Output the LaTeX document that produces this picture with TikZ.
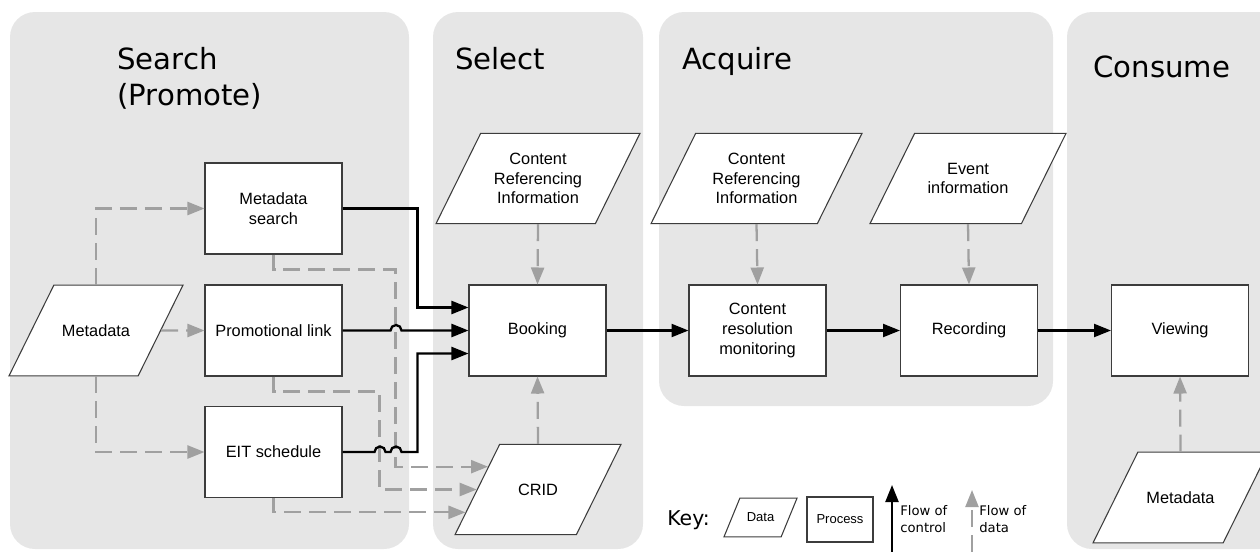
\documentclass[tikz,border=0pt]{standalone}
\usepackage{fontspec}
\setmainfont{Liberation Sans}
\newfontfamily\headfont{DejaVu Sans}
\usetikzlibrary{shapes.geometric,arrows.meta,calc}
\definecolor{panelgray}{RGB}{230,230,230}
\definecolor{flowgray}{RGB}{160,160,160}
\definecolor{edgegray}{RGB}{60,60,60}

\begin{document}
\begin{tikzpicture}[x=0.02cm,y=-0.02cm,
   panel/.style={fill=panelgray,rounded corners=0.5cm},
   heading/.style={anchor=base west,inner sep=0pt,align=left,
      font=\headfont\fontsize{16.6}{20.5}\selectfont},
   procbox/.style={draw=edgegray,line width=0.6pt,fill=white,align=center,
      minimum width=2.74cm,minimum height=1.82cm,inner sep=1pt,
      font=\fontsize{9.3}{11.3}\selectfont},
   databox/.style={trapezium,trapezium left angle=63.7,trapezium right angle=116.3,
      trapezium stretches body=true,draw=edgegray,line width=0.6pt,fill=white,
      align=center,inner xsep=1pt,inner ysep=22.4pt,
      font=\fontsize{9.3}{11.3}\selectfont},
   twolines/.style={inner ysep=16.75pt},
   threelines/.style={inner ysep=11.1pt},
   ctrlflow/.style={line width=1.3pt,-{Triangle[length=0.34cm,width=0.26cm]}},
   dataflow/.style={draw=flowgray,line width=1.3pt,dash pattern=on 0.34cm off 0.16cm,
      -{Triangle[length=0.34cm,width=0.26cm]}},
   keytext/.style={anchor=north west,inner sep=0pt,align=left,
      font=\headfont\fontsize{7.5}{9.5}\selectfont}]

\useasboundingbox (0,0) rectangle (1260,551);
\begin{scope}
\clip (0,0) rectangle (1260,551);
\fill[panel] (10,12) rectangle (409,549);
\fill[panel] (433,12) rectangle (643,549);
\fill[panel] (659,12) rectangle (1053,406);
\fill[panel] (1067,12) rectangle (1300,549);
\end{scope}

\node[heading,anchor=north west] (hsearch) at (117,47) {Search\\(Promote)};
\node[heading] (hselect) at (455,69) {Select};
\node[heading] (hacquire) at (682,69) {Acquire};
\node[heading] (hconsume) at (1093,77) {Consume};

\node[databox,minimum width=3.48cm] (meta) at (96,330.5) {Metadata};
\node[procbox] (msearch) at (273.5,208.5) {Metadata\\search};
\node[procbox] (promo) at (273.5,330.5) {Promotional link};
\node[procbox] (eit) at (273.5,452) {EIT schedule};

\node[procbox] (booking) at (537.5,330.5) {Booking};
\node[databox,threelines,minimum width=4.08cm] (cri) at (538,178.5) {Content\\Referencing\\Information};
\node[databox,minimum width=3.32cm] (crid) at (538,489.5) {CRID};

\node[procbox] (resol) at (757.5,330.5) {Content\\resolution\\monitoring};
\node[databox,threelines,minimum width=4.22cm] (cri2) at (756.5,178.5) {Content\\Referencing\\Information};
\node[procbox] (rec) at (969,330.5) {Recording};
\node[databox,twolines,minimum width=3.92cm] (event) at (968,178.5) {Event\\information};

\node[procbox] (view) at (1180,330.5) {Viewing};
\node[databox,minimum width=3.5cm] (meta2) at (1180.5,497.5) {Metadata};

\draw[dataflow] (meta.north) |- (msearch.west);
\draw[dataflow] (meta.east) -- (promo.west);
\draw[dataflow] (meta.south) |- (eit.west);
\draw[dataflow] (msearch.south) |- ++(122,15)
   |- ($(crid.top left corner)!.25!(crid.bottom left corner)$);
\draw[dataflow] (promo.south) |- ++(106,15)
   |- ($(crid.top left corner)!.5!(crid.bottom left corner)$);
\draw[dataflow] (eit.south) |- ($(crid.top left corner)!.75!(crid.bottom left corner)$);
\draw[dataflow] (cri.south) -- (booking.north);
\draw[dataflow] (crid.north) -- (booking.south);
\draw[dataflow] (cri2.south) -- (resol.north);
\draw[dataflow] (event.south) -- (rec.north);
\draw[dataflow] (meta2.north) -- (view.south);

\draw[ctrlflow] (msearch.east) -- ++(75,0)
   |- ($(booking.north west)!.25!(booking.south west)$);
\draw[ctrlflow] (promo.east) -- ++(48,0) arc[start angle=180,end angle=360,radius=5.5]
   -- (booking.west);
\draw[ctrlflow] (eit.east) -- ++(32,0) arc[start angle=180,end angle=360,radius=5.5]
   -- ++(5,0) arc[start angle=180,end angle=360,radius=5.5] -- ++(16,0)
   |- ($(booking.north west)!.75!(booking.south west)$);
\draw[ctrlflow] (booking.east) -- (resol.west);
\draw[ctrlflow] (resol.east) -- (rec.west);
\draw[ctrlflow] (rec.east) -- (view.west);

\node[anchor=base west,inner sep=0pt,font=\headfont\fontsize{11.6}{14}\selectfont]
   (key) at (667,525) {Key:};
\node[databox,minimum width=1.46cm,inner ysep=8.4pt,trapezium left angle=67.7,
   trapezium right angle=112.3,font=\fontsize{7.4}{9}\selectfont] (kdata) at (760.5,517.5) {Data};
\node[procbox,minimum width=1.32cm,minimum height=0.9cm,font=\fontsize{7.4}{9}\selectfont]
   (kproc) at (840,519.5) {Process};
\coordinate (kctrl) at (892,552);
\draw[ctrlflow] (kctrl) -- ++(0,-67);
\node[keytext] (kctrltext) at (900,505) {Flow of\\control};
\coordinate (kdat) at (972,552);
\draw[dataflow] (kdat) -- ++(0,-62);
\node[keytext] (kdattext) at (979,505) {Flow of\\data};
\end{tikzpicture}
\end{document}
